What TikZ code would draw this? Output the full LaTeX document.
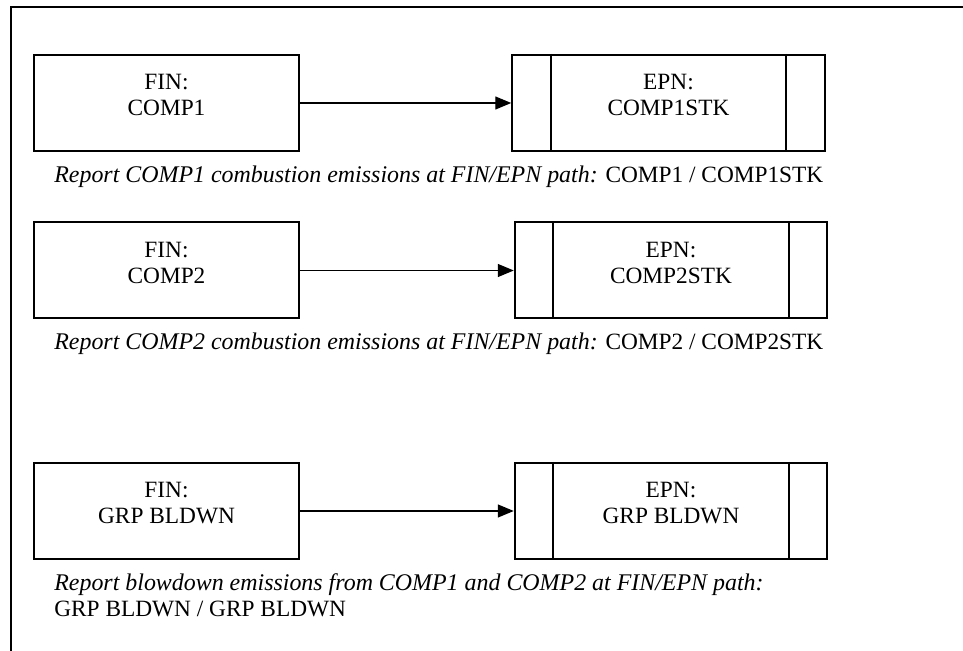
\documentclass[tikz,border=0pt]{standalone}
\usepackage{fontspec}
\setmainfont{Liberation Serif}
\usetikzlibrary{arrows.meta}
\newcommand{\reportit}[1]{{\fontsize{14.35}{15.6}\selectfont\itshape #1}}
\tikzset{
	finbox/.style={draw, line width=1.2pt, minimum width=159pt, minimum height=57.6pt, inner sep=0pt},
	epnbox/.style={draw, line width=1.2pt, minimum width=187.5pt, minimum height=57.6pt, inner sep=0pt},
	boxtext/.style={align=center, inner sep=0pt, font=\fontsize{14}{15.6}\selectfont, yshift=4.6pt},
	flow/.style={line width=0.8pt, -{Triangle[length=9.6pt,width=7.8pt]}},
	note/.style={inner sep=0pt, align=left, font=\fontsize{14}{15.6}\selectfont}
}

\begin{document}
\begin{tikzpicture}[x=0.6pt, y=-0.6pt]
			%%%%% START %%%%%
			\useasboundingbox (0, 0) rectangle (963, 651);
			
			\draw[line width=1.2pt] (11, 651) -- (11, 7) -- (963, 7);
			
			% first compressor
			\node[finbox, label={[boxtext]center:{FIN:\\COMP1}}] (fin1) at (166.5, 103) {};
			\node[epnbox, label={[boxtext]center:{EPN:\\COMP1STK}}] (epn1) at (668.5, 103) {};
			\draw[line width=1.2pt] ([xshift=23.7pt]epn1.north west) -- ([xshift=23.7pt]epn1.south west);
			\draw[line width=1.2pt] ([xshift=-23.7pt]epn1.north east) -- ([xshift=-23.7pt]epn1.south east);
			\draw[flow] (fin1) -- (epn1);
			\node[note, anchor=base west] (note1) at (54, 182.7) {\reportit{Report COMP1 combustion emissions at FIN/EPN path:} COMP1 / COMP1STK};
			
			% second compressor
			\node[finbox, label={[boxtext]center:{FIN:\\COMP2}}] (fin2) at (166.5, 270.5) {};
			\node[epnbox, label={[boxtext]center:{EPN:\\COMP2STK}}] (epn2) at (671, 270.5) {};
			\draw[line width=1.2pt] ([xshift=23.7pt]epn2.north west) -- ([xshift=23.7pt]epn2.south west);
			\draw[line width=1.2pt] ([xshift=-23.7pt]epn2.north east) -- ([xshift=-23.7pt]epn2.south east);
			\draw[flow] (fin2) -- (epn2);
			\node[note, anchor=base west] (note2) at (54, 350) {\reportit{Report COMP2 combustion emissions at FIN/EPN path:} COMP2 / COMP2STK};
			
			% blowdown group
			\node[finbox, label={[boxtext]center:{FIN:\\GRP BLDWN}}] (fin3) at (166.5, 511) {};
			\node[epnbox, label={[boxtext]center:{EPN:\\GRP BLDWN}}] (epn3) at (671, 511) {};
			\draw[line width=1.2pt] ([xshift=23.7pt]epn3.north west) -- ([xshift=23.7pt]epn3.south west);
			\draw[line width=1.2pt] ([xshift=-23.7pt]epn3.north east) -- ([xshift=-23.7pt]epn3.south east);
			\draw[flow] (fin3) -- (epn3);
			\node[note, anchor=west] (note3) at (54, 595.7) {\reportit{Report blowdown emissions from COMP1 and COMP2 at FIN/EPN path:}\\GRP BLDWN / GRP BLDWN};
			
			%%%%% END %%%%%
\end{tikzpicture}
\end{document}
